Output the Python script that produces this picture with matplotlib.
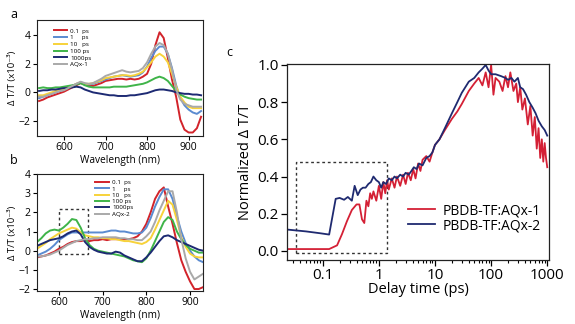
import numpy as np
import matplotlib
matplotlib.use("Agg")
import matplotlib.pyplot as plt
from matplotlib.patches import Rectangle
from matplotlib.ticker import LogLocator, NullFormatter

plt.rcParams['font.family'] = ['Open Sans', 'DejaVu Sans']

# ---- transient spectra, panel a (AQx-1 blend) ----
wl_a = list(range(540, 940, 10))
red_a = [-0.6, -0.5, -0.35, -0.25, -0.15, -0.05, 0.05, 0.2, 0.35, 0.5, 0.65, 0.55, 0.5, 0.45, 0.55, 0.65,
         0.8, 0.85, 0.9, 0.95, 0.95, 0.9, 0.95, 0.9, 0.95, 1.1, 1.3, 2.0, 3.3, 4.2, 3.8, 2.4, 0.9, -0.3,
         -1.9, -2.6, -2.8, -2.8, -2.5, -1.7]
blue_a = [-0.4, -0.3, -0.2, -0.1, 0.0, 0.1, 0.2, 0.3, 0.45, 0.6, 0.7, 0.6, 0.55, 0.6, 0.7, 0.8,
          0.9, 1.0, 1.1, 1.15, 1.2, 1.15, 1.1, 1.15, 1.2, 1.4, 1.8, 2.4, 2.9, 3.2, 3.2, 2.7, 1.7, 0.5,
          -0.4, -0.9, -1.2, -1.4, -1.5, -1.3]
yellow_a = [-0.2, -0.2, -0.1, 0.0, 0.1, 0.15, 0.25, 0.35, 0.45, 0.6, 0.7, 0.6, 0.6, 0.65, 0.75, 0.85,
            1.0, 1.05, 1.1, 1.15, 1.2, 1.2, 1.15, 1.2, 1.3, 1.45, 1.75, 2.1, 2.5, 2.7, 2.5, 2.1, 1.3, 0.4,
            -0.3, -0.7, -1.0, -1.1, -1.1, -1.1]
green_a = [0.3, 0.35, 0.3, 0.3, 0.35, 0.35, 0.4, 0.45, 0.5, 0.55, 0.65, 0.5, 0.4, 0.35, 0.35, 0.35,
           0.35, 0.35, 0.4, 0.4, 0.4, 0.4, 0.45, 0.5, 0.55, 0.6, 0.7, 0.85, 1.0, 1.1, 1.0, 0.8, 0.45, 0.1,
           -0.15, -0.3, -0.4, -0.45, -0.5, -0.5]
navy_a = [0.1, 0.15, 0.15, 0.2, 0.2, 0.25, 0.3, 0.3, 0.35, 0.4, 0.35, 0.2, 0.1, 0.0, -0.05, -0.1,
          -0.15, -0.2, -0.2, -0.25, -0.25, -0.25, -0.2, -0.2, -0.15, -0.1, -0.05, 0.05, 0.15, 0.2, 0.2, 0.15,
          0.1, 0.0, -0.05, -0.1, -0.1, -0.15, -0.15, -0.2]
gray_a = [-0.3, -0.3, -0.2, -0.1, 0.0, 0.1, 0.15, 0.3, 0.45, 0.6, 0.75, 0.65, 0.6, 0.65, 0.8, 0.95,
          1.15, 1.25, 1.35, 1.45, 1.55, 1.45, 1.4, 1.45, 1.5, 1.7, 2.1, 2.7, 3.2, 3.45, 3.3, 2.7, 1.6, 0.2,
          -0.5, -0.8, -0.9, -1.0, -1.0, -1.0]

# ---- transient spectra, panel b (AQx-2 blend) ----
wl_b = list(range(550, 940, 10))
red_b = [-0.35, -0.3, -0.25, -0.15, -0.05, 0.1, 0.2, 0.35, 0.45, 0.5, 0.5, 0.55, 0.5, 0.55, 0.55, 0.6,
         0.55, 0.6, 0.6, 0.6, 0.6, 0.6, 0.65, 0.75, 1.0, 1.4, 2.0, 2.7, 3.1, 3.3, 2.3, 1.4, 0.4, -0.5,
         -1.1, -1.6, -2.0, -2.0, -1.9]
blue_b = [-0.25, -0.15, -0.05, 0.1, 0.3, 0.55, 0.7, 0.85, 0.95, 0.95, 0.95, 0.95, 0.95, 0.95, 0.95, 0.95,
          1.0, 1.05, 1.05, 1.0, 1.0, 0.95, 0.9, 0.9, 0.95, 1.2, 1.7, 2.3, 2.8, 3.2, 3.2, 2.7, 1.8, 1.0,
          0.4, 0.0, -0.3, -0.5, -0.6]
yellow_b = [0.1, 0.25, 0.4, 0.6, 0.75, 0.9, 1.0, 1.1, 1.2, 1.15, 0.95, 0.8, 0.75, 0.7, 0.7, 0.65,
            0.65, 0.6, 0.6, 0.55, 0.5, 0.5, 0.45, 0.4, 0.35, 0.45, 0.65, 1.1, 1.6, 2.1, 2.6, 2.4, 1.6, 0.7,
            0.2, -0.15, -0.3, -0.35, -0.35]
green_b = [0.45, 0.65, 0.9, 1.05, 1.1, 1.05, 1.2, 1.4, 1.65, 1.6, 1.2, 0.65, 0.3, 0.1, 0.0, -0.05,
           -0.1, -0.15, -0.2, -0.25, -0.3, -0.4, -0.5, -0.55, -0.6, -0.4, 0.0, 0.5, 1.0, 1.5, 1.75, 1.6,
           1.0, 0.6, 0.3, 0.1, 0.0, -0.1, -0.1]
navy_b = [0.25, 0.35, 0.45, 0.55, 0.6, 0.65, 0.75, 0.9, 1.0, 1.05, 0.85, 0.45, 0.2, 0.05, -0.05, -0.1,
          -0.15, -0.15, -0.05, -0.1, -0.25, -0.35, -0.45, -0.55, -0.55, -0.35, -0.1, 0.2, 0.5, 0.75, 0.8,
          0.7, 0.55, 0.45, 0.35, 0.25, 0.15, 0.05, 0.0]
gray_b = [-0.3, -0.3, -0.25, -0.2, -0.1, 0.0, 0.15, 0.3, 0.4, 0.5, 0.55, 0.6, 0.6, 0.65, 0.65, 0.7,
          0.7, 0.7, 0.7, 0.65, 0.65, 0.6, 0.6, 0.55, 0.55, 0.75, 1.0, 1.5, 2.1, 2.6, 3.1, 3.1, 2.0, 0.6,
          -0.4, -1.1, -1.5, -1.35, -1.2]

# ---- normalized kinetics, panel c ----
t_aqx1 = [0.023, 0.05, 0.1, 0.13, 0.18, 0.22, 0.27, 0.33, 0.4, 0.45, 0.5, 0.55, 0.6, 0.65, 0.7, 0.75,
          0.8, 0.9, 1.0, 1.1, 1.2, 1.3, 1.4, 1.5, 1.7, 1.9, 2.1, 2.4, 2.7, 3.0, 3.3, 3.7, 4.1, 4.5, 5.0,
          5.5, 6.0, 7.0, 8.0, 9.0, 10, 12, 15, 20, 25, 30, 40, 50, 60, 70, 80, 90, 100, 110, 120, 140,
          160, 180, 200, 220, 250, 280, 300, 330, 360, 400, 450, 500, 550, 600, 650, 700, 750, 800, 850,
          900, 950, 1000]
dtt_aqx1 = [0.01, 0.01, 0.01, 0.01, 0.03, 0.09, 0.16, 0.22, 0.25, 0.25, 0.17, 0.15, 0.27, 0.24, 0.31,
            0.28, 0.32, 0.27, 0.35, 0.28, 0.37, 0.31, 0.38, 0.33, 0.39, 0.34, 0.40, 0.35, 0.41, 0.36,
            0.42, 0.38, 0.44, 0.39, 0.47, 0.43, 0.49, 0.51, 0.48, 0.53, 0.57, 0.60, 0.65, 0.71, 0.75,
            0.79, 0.86, 0.90, 0.93, 0.89, 0.96, 0.88, 1.0, 0.84, 0.93, 0.91, 0.86, 0.94, 0.88, 0.96,
            0.86, 0.90, 0.80, 0.88, 0.76, 0.82, 0.68, 0.78, 0.62, 0.72, 0.55, 0.66, 0.50, 0.60, 0.48,
            0.58, 0.50, 0.45]
t_aqx2 = [0.023, 0.05, 0.09, 0.13, 0.17, 0.2, 0.24, 0.28, 0.33, 0.37, 0.42, 0.47, 0.52, 0.58, 0.65,
          0.72, 0.8, 0.9, 1.0, 1.1, 1.2, 1.35, 1.5, 1.7, 1.9, 2.1, 2.4, 2.7, 3.0, 3.4, 3.8, 4.2, 4.7,
          5.2, 6, 7, 8, 9, 10, 12, 15, 20, 25, 30, 40, 50, 60, 70, 80, 90, 100, 120, 150, 180, 200, 230,
          260, 300, 330, 370, 420, 480, 550, 620, 700, 800, 900, 1000]
dtt_aqx2 = [0.115, 0.105, 0.095, 0.088, 0.28, 0.285, 0.275, 0.29, 0.27, 0.35, 0.30, 0.33, 0.34, 0.34,
            0.36, 0.37, 0.40, 0.38, 0.37, 0.34, 0.37, 0.36, 0.39, 0.38, 0.40, 0.39, 0.41, 0.40, 0.42,
            0.41, 0.43, 0.45, 0.44, 0.47, 0.46, 0.50, 0.51, 0.53, 0.57, 0.60, 0.66, 0.74, 0.80, 0.85,
            0.91, 0.93, 0.96, 0.98, 1.0, 0.97, 0.95, 0.95, 0.94, 0.93, 0.92, 0.93, 0.91, 0.93, 0.88,
            0.87, 0.84, 0.80, 0.77, 0.74, 0.70, 0.67, 0.65, 0.62]

labels_a = ['0.1  ps', '1     ps', '10   ps', '100 ps', '1000ps', 'AQx-1']
labels_b = ['0.1  ps', '1     ps', '10   ps', '100 ps', '1000ps', 'AQx-2']
colors = ['#d2232a', '#5b8bd0', '#f7d23a', '#3fb449', '#1d2a73', '#a9a9a9']

fig = plt.figure(figsize=(5.75, 3.24), dpi=100)
ax_a = fig.add_axes([0.0643, 0.580, 0.289, 0.358])
ax_b = fig.add_axes([0.0643, 0.102, 0.289, 0.361])
ax_c = fig.add_axes([0.499, 0.198, 0.456, 0.605])

spec_a = [red_a, blue_a, yellow_a, green_a, navy_a, gray_a]
spec_b = [red_b, blue_b, yellow_b, green_b, navy_b, gray_b]

# gray is drawn last so it sits on top in both spectra panels
for ax, wl, spec, labels in [(ax_a, wl_a, spec_a, labels_a), (ax_b, wl_b, spec_b, labels_b)]:
    for y, c, lab in zip(spec, colors, labels):
        ax.plot(wl, y, color=c, lw=1.4, label=lab)
    ax.set_xticks([600, 700, 800, 900])
    ax.tick_params(direction='out', length=3, width=0.8, labelsize=7.5, pad=1.5)
    ax.set_ylabel('\u0394 T/T (x10\u207b\u00b3)', fontsize=6.8, labelpad=1)
    ax.set_xlabel('Wavelength (nm)', fontsize=7.3, labelpad=1)
    for s in ax.spines.values():
        s.set_linewidth(0.8)
        s.set_color('#222222')

ax_a.set_xlim(535, 935)
ax_a.set_ylim(-3.05, 5.05)
ax_a.set_yticks([-2, 0, 2, 4])
ax_a.legend(loc='upper left', bbox_to_anchor=(0.1, 0.93), frameon=False, fontsize=4.5,
            handlelength=2.2, handletextpad=0.5, labelspacing=0.22, borderpad=0, borderaxespad=0)

ax_b.set_xlim(550, 930)
ax_b.set_ylim(-2.1, 4.0)
ax_b.set_yticks([-2, -1, 0, 1, 2, 3, 4])
ax_b.legend(loc='upper left', bbox_to_anchor=(0.35, 0.95), frameon=False, fontsize=4.5,
            handlelength=2.2, handletextpad=0.5, labelspacing=0.15, borderpad=0, borderaxespad=0)
ax_b.add_patch(Rectangle((600, -0.18), 67, 2.33, fill=False, ec='#333333', lw=1.0,
                         ls=(0, (2, 2))))

# kinetics
ax_c.plot(t_aqx1, dtt_aqx1, color='#d42035', lw=1.3, label='PBDB-TF:AQx-1')
ax_c.plot(t_aqx2, dtt_aqx2, color='#1f2a70', lw=1.3, label='PBDB-TF:AQx-2')
ax_c.set_xscale('log')
ax_c.set_xlim(0.023, 1080)
ax_c.set_ylim(-0.048, 1.006)
ax_c.set_xticks([0.1, 1, 10, 100, 1000])
ax_c.set_xticklabels(['0.1', '1', '10', '100', '1000'])
ax_c.xaxis.set_minor_locator(LogLocator(base=10, subs=np.arange(2, 10)))
ax_c.xaxis.set_minor_formatter(NullFormatter())
ax_c.set_yticks([0.0, 0.2, 0.4, 0.6, 0.8, 1.0])
ax_c.set_yticklabels(['0.0', '0.2', '0.4', '0.6', '0.8', '1.0'])
ax_c.tick_params(which='major', direction='out', length=4, width=0.9, labelsize=11, pad=2)
ax_c.tick_params(which='minor', direction='out', length=2.5, width=0.8)
ax_c.set_xlabel('Delay time (ps)', fontsize=10.5, labelpad=-1)
ax_c.set_ylabel('Normalized \u0394 T/T', fontsize=10.5, labelpad=3)
for s in ax_c.spines.values():
    s.set_linewidth(0.9)
    s.set_color('#222222')
ax_c.legend(loc='upper left', bbox_to_anchor=(0.46, 0.29), frameon=False, fontsize=10,
            handlelength=2.0, handletextpad=0.5, labelspacing=0.0, borderpad=0, borderaxespad=0)
ax_c.add_patch(Rectangle((0.034, -0.01), 1.4 - 0.034, 0.49, fill=False, ec='#333333', lw=1.0,
                         ls=(0, (2, 2))))

fig.text(10 / 575, 1 - 14 / 324, 'a', fontsize=9, va='center')
fig.text(10 / 575, 1 - 160 / 324, 'b', fontsize=9, va='center')
fig.text(226 / 575, 1 - 52 / 324, 'c', fontsize=9, va='center')

fig.savefig('out.png', dpi=100)
